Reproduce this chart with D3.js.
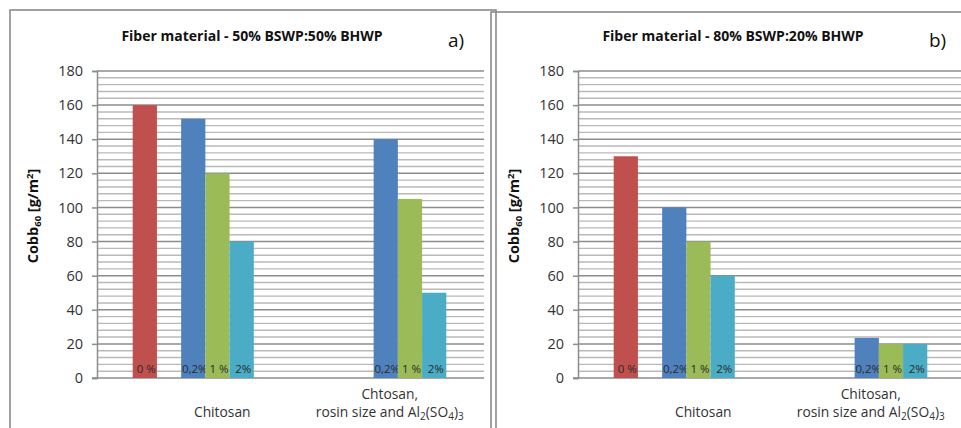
<!DOCTYPE html>
<html>
<head>
<meta charset="utf-8">
<script src="https://cdn.jsdelivr.net/npm/d3@7"></script>
<style>
  body { margin: 0; background: #fff; }
  svg { display: block; font-family: "Open Sans", sans-serif; }
</style>
</head>
<body>
<svg id="chart" width="961" height="428"></svg>
<script>
// Series (bar labels) - second slot is an empty series in the original chart
const seriesLabels = ['0 %', '', '0,2%', '1 %', '2%'];
const seriesColors = ['#C0504D', '#ffffff', '#4F81BD', '#9BBB59', '#4BACC6'];

// categories: each entry is a list of lines
const categoriesA = [['Chitosan'], ['Chtosan,', 'rosin size and Al[2](SO[4])[3]']];
const categoriesB = [['Chitosan'], ['Chitosan,', 'rosin size and Al[2](SO[4])[3]']];

// values per category, in series order (null = no bar)
const valuesA = [[160, null, 152, 120, 80], [null, null, 140, 105, 50]];
const valuesB = [[130, null, 100, 80, 60], [null, null, 23.5, 20, 20]];

const titleA = 'Fiber material - 50% BSWP:50% BHWP';
const titleB = 'Fiber material - 80% BSWP:20% BHWP';
const yTicks = [0, 20, 40, 60, 80, 100, 120, 140, 160, 180];

const svg = d3.select('#chart');

// write text with [sub] pieces as subscript tspans
function richText(sel, str, subSize) {
  const parts = str.split(/(\[[^\]]*\])/).filter(s => s.length);
  let shifted = false;
  parts.forEach(p => {
    if (p.startsWith('[')) {
      sel.append('tspan').attr('font-size', subSize).attr('dy', shifted ? 0 : 3).text(p.slice(1, -1));
      shifted = true;
    } else {
      sel.append('tspan').attr('dy', shifted ? -3 : 0).text(p);
      shifted = false;
    }
  });
}

function drawPanel(ox, oy, title, tag, cats, values) {
  const g = svg.append('g').attr('transform', `translate(${ox},0)`);

  // panel frame
  g.append('rect')
    .attr('x', 10).attr('y', oy)
    .attr('width', 486).attr('height', 440)
    .attr('fill', 'none').attr('stroke', '#8a8a8a').attr('stroke-width', 1.6);

  const left = 97, right = 482, top = 71, bottom = 378;

  const y = d3.scaleLinear().domain([0, 180]).range([bottom, top]);
  const x0 = d3.scaleBand().domain(d3.range(cats.length)).range([left, right])
    .paddingInner(0.371).paddingOuter(0.1855);
  const x1 = d3.scaleBand().domain(d3.range(seriesLabels.length)).range([0, x0.bandwidth()]);

  // minor gridlines
  const minor = d3.range(4, 180, 4).filter(v => v % 20 !== 0);
  g.selectAll('.minor').data(minor).enter().append('line')
    .attr('x1', left).attr('x2', right + 2)
    .attr('y1', d => y(d)).attr('y2', d => y(d))
    .attr('stroke', '#b9b9b9').attr('stroke-width', 1.4);

  // major gridlines
  g.selectAll('.major').data(yTicks.slice(1)).enter().append('line')
    .attr('x1', left).attr('x2', right + 2)
    .attr('y1', d => y(d)).attr('y2', d => y(d))
    .attr('stroke', '#8c8c8c').attr('stroke-width', 1.5);

  // y axis
  const yAxis = g.append('g').attr('transform', `translate(${left},0)`)
    .call(d3.axisLeft(y).tickValues(yTicks).tickSize(5).tickPadding(9));
  yAxis.select('.domain').attr('stroke', '#8c8c8c').attr('stroke-width', 1.5);
  yAxis.selectAll('.tick line').attr('stroke', '#8c8c8c').attr('stroke-width', 1.5);
  yAxis.selectAll('.tick text').attr('font-size', 14.5).attr('fill', '#333')
    .attr('font-family', '"Open Sans", sans-serif');

  // x axis baseline
  g.append('line')
    .attr('x1', left - 5).attr('x2', right + 2)
    .attr('y1', y(0)).attr('y2', y(0))
    .attr('stroke', '#8c8c8c').attr('stroke-width', 1.5);

  // bars
  cats.forEach((c, ci) => {
    const grp = g.append('g').attr('transform', `translate(${x0(ci)},0)`);
    values[ci].forEach((v, si) => {
      if (v == null) return;
      grp.append('rect')
        .attr('x', x1(si)).attr('y', y(v))
        .attr('width', x1.bandwidth()).attr('height', y(0) - y(v))
        .attr('fill', seriesColors[si]);
      grp.append('text')
        .attr('x', x1(si) + x1.bandwidth() / 2 + 1.5).attr('y', y(0) - 5)
        .attr('text-anchor', 'middle').attr('font-size', 11.5).attr('fill', '#2b2b2b')
        .text(seriesLabels[si]);
    });
  });

  // category labels
  const catShift = [29, 4];
  cats.forEach((lines, ci) => {
    const cx = x0(ci) + x0.bandwidth() / 2 + catShift[ci];
    lines.forEach((ln, li) => {
      const t = g.append('text')
        .attr('x', cx).attr('y', 417 - (lines.length - 1 - li) * 18.5)
        .attr('text-anchor', 'middle').attr('font-size', 13.8).attr('fill', '#333');
      richText(t, ln, 10);
    });
  });

  // title and panel tag
  g.append('text').attr('x', 252).attr('y', 41)
    .attr('text-anchor', 'middle').attr('font-size', 14).attr('font-weight', 'bold')
    .attr('fill', '#111').text(title);
  g.append('text').attr('x', 448).attr('y', 47)
    .attr('font-size', 19).attr('fill', '#111').text(tag);

  // y axis title
  const yt = g.append('text')
    .attr('transform', 'translate(38,216) rotate(-90)')
    .attr('text-anchor', 'middle').attr('font-size', 14.5).attr('font-weight', 'bold')
    .attr('fill', '#111');
  yt.append('tspan').text('Cobb');
  yt.append('tspan').attr('font-size', 9.5).attr('dy', 3).text('60');
  yt.append('tspan').attr('dy', -3).text(' [g/m');
  yt.append('tspan').attr('font-size', 9.5).attr('dy', -5).text('2');
  yt.append('tspan').attr('dy', 5).text(']');
}

drawPanel(0, 10, titleA, 'a)', categoriesA, valuesA);
drawPanel(481, 12, titleB, 'b)', categoriesB, valuesB);
</script>
</body>
</html>
